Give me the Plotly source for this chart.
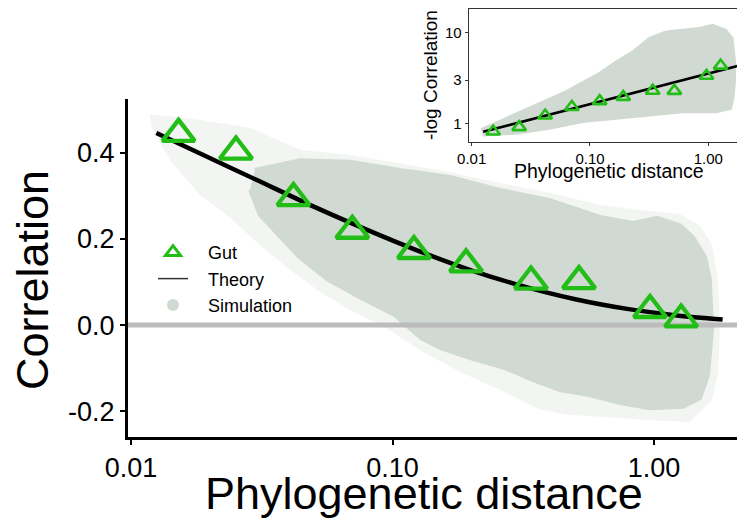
import math
import plotly.graph_objects as go

# ---------------- data ----------------
# Gut observations: phylogenetic distance vs correlation
gut_dist = [0.0152, 0.0252, 0.0418, 0.0702, 0.1208, 0.1911, 0.3385, 0.5167, 0.9654, 1.270]
gut_corr = [0.444, 0.403, 0.295, 0.219, 0.172, 0.141, 0.101, 0.102, 0.035, 0.013]

# Theory curve (read at several distances)
theory_dist = [0.0125, 0.02, 0.03, 0.05, 0.08, 0.12, 0.2, 0.3, 0.5, 0.8, 1.2, 1.83]
theory_corr = [0.446, 0.388, 0.338, 0.275, 0.221, 0.177, 0.127, 0.094, 0.060, 0.037, 0.023, 0.013]

# Simulation cloud: outer (sparse) envelope, traced around the point cloud
sim_outer_dist = [0.0118, 0.0184, 0.0285, 0.0443, 0.0688, 0.1068, 0.1659, 0.2577, 0.400, 0.622,
                  0.884, 1.257, 1.499, 1.667, 1.757, 1.788, 1.757, 1.667,
                  1.373, 0.965, 0.679, 0.477, 0.367, 0.258, 0.181, 0.127, 0.0978, 0.0688,
                  0.0528, 0.0406, 0.0311, 0.0239, 0.0184, 0.0141, 0.0120]
sim_outer_corr = [0.490, 0.476, 0.458, 0.407, 0.395, 0.376, 0.355, 0.330, 0.307, 0.279,
                  0.267, 0.258, 0.232, 0.186, 0.105, -0.012, -0.116, -0.174,
                  -0.225, -0.221, -0.214, -0.209, -0.197, -0.151, -0.109, -0.058, -0.012, 0.035,
                  0.077, 0.128, 0.186, 0.249, 0.302, 0.383, 0.458]
# Simulation cloud: inner (dense) envelope
sim_inner_dist = [0.0298, 0.0443, 0.0688, 0.1068, 0.1659, 0.2577, 0.400, 0.622, 0.831, 1.027,
                  1.257, 1.410, 1.567, 1.637, 1.667, 1.609, 1.499,
                  1.291, 0.965, 0.741, 0.569, 0.437, 0.345, 0.269, 0.198, 0.152, 0.1285,
                  0.1022, 0.0758, 0.0567, 0.0443, 0.0365, 0.0311, 0.0285]
sim_inner_corr = [0.360, 0.383, 0.379, 0.360, 0.344, 0.314, 0.290, 0.251, 0.237, 0.249,
                  0.232, 0.204, 0.158, 0.105, -0.012, -0.116, -0.170,
                  -0.190, -0.193, -0.181, -0.163, -0.151, -0.128, -0.100, -0.077, -0.053, -0.030,
                  0.023, 0.063, 0.105, 0.156, 0.209, 0.256, 0.314]

# Inset: simulation cloud envelope in (distance, -log correlation)
inset_sim_dist = [0.0120, 0.0171, 0.0328, 0.0627, 0.1199, 0.1660, 0.2296, 0.3170, 0.4385, 0.6076,
                  0.8395, 1.089, 1.413, 1.607, 1.690, 1.690, 1.641, 1.556,
                  1.161, 0.608, 0.317, 0.166, 0.0867, 0.0453, 0.0237, 0.0124]
inset_sim_nlog = [0.866, 1.068, 1.560, 2.280, 3.631, 4.875, 6.281, 8.810, 10.42, 10.86,
                  11.35, 12.33, 10.86, 8.81, 4.875, 2.938, 1.932, 1.435,
                  1.321, 1.321, 1.212, 1.114, 1.026, 0.866, 0.763, 0.731]

main_xtick_vals = [0.01, 0.1, 1]
main_xtick_text = ["0.01", "0.10", "1.00"]
main_ytick_vals = [-0.2, 0.0, 0.2, 0.4]
main_ytick_text = ["-0.2", "0.0", "0.2", "0.4"]
inset_ytick_vals = [1, 3, 10]
inset_ytick_text = ["1", "3", "10"]
legend_names = ["Gut", "Theory", "Simulation"]

gut_nlog = [-math.log(c) for c in gut_corr]
theory_nlog = [-math.log(c) for c in theory_corr]

# ---------------- style / layout ----------------
# The page body has an 8px margin, so the figure is drawn 8px in from the window edge.
OFF = 8
WIN_W, WIN_H = 745, 520
W, H = WIN_W - OFF, WIN_H - OFF


def px(sx):
    """window x pixel -> paper fraction"""
    return min(1.0, max(0.0, (sx - OFF) / W))


def py(sy):
    """window y pixel -> paper fraction"""
    return min(1.0, max(0.0, (WIN_H - sy) / H))


GREEN = "#22bd16"
CLOUD = "#d1dad2"
CLOUD_SPARSE = "rgba(209,218,210,0.26)"
FONT = "Liberation Sans, Arial, Helvetica, sans-serif"
PAD = "\u00a0\u00a0\u00a0"  # gap between legend key and label

MAIN_XR = [-2.0115, 0.348]
MAIN_YR = [-0.260, 0.525]
INSET_XR = [-2.025, 0.310]
INSET_YR = [-0.209, 1.267]

fig = go.Figure()

# main panel
fig.add_trace(go.Scatter(x=sim_outer_dist, y=sim_outer_corr, mode="lines", fill="toself",
                         fillcolor=CLOUD_SPARSE, line=dict(width=0, color=CLOUD),
                         showlegend=False, hoverinfo="skip", xaxis="x", yaxis="y"))
fig.add_trace(go.Scatter(x=sim_inner_dist, y=sim_inner_corr, mode="lines", fill="toself",
                         fillcolor=CLOUD, line=dict(width=4, color=CLOUD),
                         showlegend=False, hoverinfo="skip", xaxis="x", yaxis="y"))
fig.add_trace(go.Scatter(x=[10 ** MAIN_XR[0], 10 ** MAIN_XR[1]], y=[0, 0], mode="lines",
                         line=dict(color="#bcbcbc", width=5), showlegend=False,
                         hoverinfo="skip", xaxis="x", yaxis="y"))
fig.add_trace(go.Scatter(x=theory_dist, y=theory_corr, mode="lines", line_shape="spline",
                         line=dict(color="black", width=4.5), showlegend=False,
                         xaxis="x", yaxis="y"))
fig.add_trace(go.Scatter(x=gut_dist, y=gut_corr, mode="markers",
                         marker=dict(symbol="triangle-up-open", size=28, color=GREEN,
                                     line=dict(width=4.3, color=GREEN)),
                         showlegend=False, xaxis="x", yaxis="y"))

# legend-only entries
fig.add_trace(go.Scatter(x=[None], y=[None], mode="markers", name=PAD + legend_names[0],
                         marker=dict(symbol="triangle-up-open", size=13, color=GREEN,
                                     line=dict(width=3, color=GREEN))))
fig.add_trace(go.Scatter(x=[None], y=[None], mode="lines", name=PAD + legend_names[1],
                         line=dict(color="#333333", width=1.5)))
fig.add_trace(go.Scatter(x=[None], y=[None], mode="markers", name=PAD + legend_names[2],
                         marker=dict(symbol="circle", size=12, color=CLOUD)))

# inset
fig.add_trace(go.Scatter(x=inset_sim_dist, y=inset_sim_nlog, mode="lines", fill="toself",
                         fillcolor=CLOUD, line=dict(width=1.5, color=CLOUD),
                         showlegend=False, hoverinfo="skip", xaxis="x2", yaxis="y2"))
fig.add_trace(go.Scatter(x=theory_dist, y=theory_nlog, mode="lines",
                         line=dict(color="black", width=2.6), showlegend=False,
                         xaxis="x2", yaxis="y2"))
fig.add_trace(go.Scatter(x=gut_dist, y=gut_nlog, mode="markers",
                         marker=dict(symbol="triangle-up-open", size=12, color=GREEN,
                                     line=dict(width=2.6, color=GREEN)),
                         showlegend=False, xaxis="x2", yaxis="y2"))

ax_common = dict(showgrid=False, zeroline=False, ticks="outside", automargin=False)

fig.update_layout(
    width=W, height=H,
    margin=dict(l=0, r=0, t=0, b=0, pad=0, autoexpand=False),
    paper_bgcolor="white", plot_bgcolor="white",
    font=dict(family=FONT, color="black"),
    xaxis=dict(type="log", range=MAIN_XR, domain=[px(128), 1.0], anchor="y",
               tickvals=main_xtick_vals, ticktext=main_xtick_text,
               showline=True, linecolor="black", linewidth=3,
               ticklen=5, tickwidth=2, tickcolor="black",
               tickfont=dict(size=27, family=FONT, color="black"), **ax_common),
    yaxis=dict(range=MAIN_YR, domain=[py(437), py(99)], anchor="x",
               tickvals=main_ytick_vals, ticktext=main_ytick_text,
               showline=True, linecolor="black", linewidth=3,
               ticklen=5, tickwidth=2, tickcolor="black",
               tickfont=dict(size=27, family=FONT, color="black"), **ax_common),
    xaxis2=dict(type="log", range=INSET_XR, domain=[px(468.7), 1.0], anchor="y2",
                tickvals=main_xtick_vals, ticktext=main_xtick_text,
                showline=True, mirror=True, linecolor="#333333", linewidth=1.2,
                ticklen=3, tickwidth=1, tickcolor="#333333",
                tickfont=dict(size=15, family=FONT, color="black"), **ax_common),
    yaxis2=dict(type="log", range=INSET_YR, domain=[py(142.3), py(8.6)], anchor="x2",
                tickvals=inset_ytick_vals, ticktext=inset_ytick_text,
                showline=True, linecolor="#333333", linewidth=1.2,
                ticklen=3, tickwidth=1, tickcolor="#333333",
                tickfont=dict(size=15, family=FONT, color="black"), **ax_common),
    showlegend=True,
    legend=dict(x=px(153), xanchor="left", y=py(234), yanchor="top",
                bgcolor="rgba(0,0,0,0)", borderwidth=0, tracegroupgap=0, itemwidth=30,
                font=dict(size=18, family=FONT, color="black")),
    annotations=[
        dict(text="Correlation", xref="paper", yref="paper", x=px(32), y=py(280),
             xanchor="center", yanchor="middle", textangle=-90, showarrow=False,
             font=dict(size=45, family=FONT, color="black")),
        dict(text="Phylogenetic distance", xref="paper", yref="paper", x=px(424), y=py(493),
             xanchor="center", yanchor="middle", showarrow=False,
             font=dict(size=45, family=FONT, color="black")),
        dict(text="-log Correlation", xref="paper", yref="paper", x=px(430), y=py(75),
             xanchor="center", yanchor="middle", textangle=-90, showarrow=False,
             font=dict(size=19, family=FONT, color="black")),
        dict(text="Phylogenetic distance", xref="paper", yref="paper", x=px(609), y=py(170.5),
             xanchor="center", yanchor="middle", showarrow=False,
             font=dict(size=19.5, family=FONT, color="black")),
    ],
)

fig.write_html("out.html")
